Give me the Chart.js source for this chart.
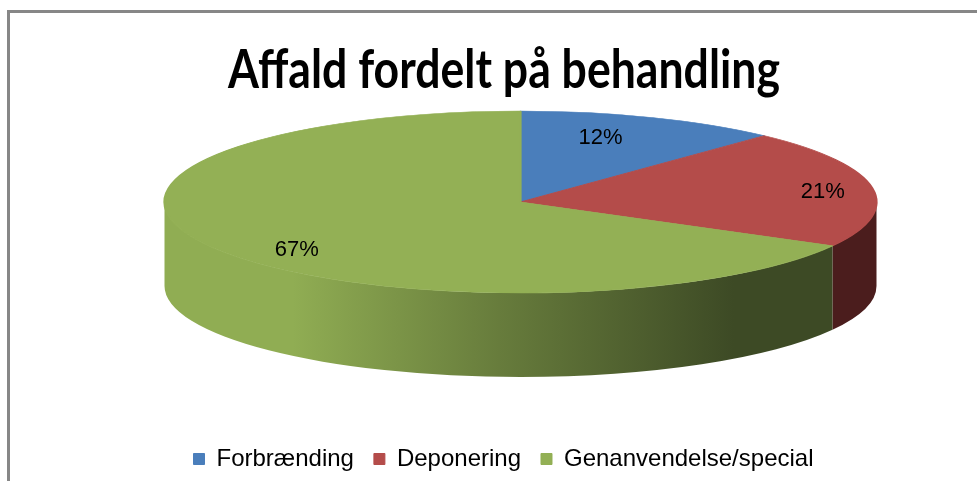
<!DOCTYPE html>
<html>
<head>
<meta charset="utf-8">
<script src="https://cdn.jsdelivr.net/npm/chart.js@4"></script>
<style>
    html, body { margin: 0; padding: 0; background: #fff; }
    #wrap { position: relative; width: 977px; height: 481px; overflow: hidden; }
    #frame { position: absolute; left: 7px; top: 10px; width: 1000px; height: 500px; border-top: 3px solid #878787; border-left: 3px solid #878787; }
    #waste-chart { position: absolute; left: 0; top: 0; }
</style>
</head>
<body>
<div id="wrap">
    <div id="frame"></div>
    <canvas id="waste-chart" width="977" height="481"></canvas>
</div>
<script>
const chartTitle = "Affald fordelt på behandling";
const categories = ["Forbrænding", "Deponering", "Genanvendelse/special"];
const shares = [12, 21, 67];
const shareLabels = ["12%", "21%", "67%"];

const topColors = ["#4A7EBB", "#B44C4A", "#93B055"];
const wallColors = [["#4A7EBB", "#263F5E"], ["#8A3A38", "#4B1D1D"], ["#90AD53", "#3D4A25"]];

const mix = (c1, c2, t) => {
    const p = c => [1, 3, 5].map(k => parseInt(c.slice(k, k + 2), 16));
    const a = p(c1), b = p(c2);
    return "rgb(" + a.map((v, k) => Math.round(v + (b[k] - v) * t)).join(",") + ")";
};

// excel draws the title tall and narrow, so squeeze it to the same width
const narrowTitle = {
    id: "narrowTitle",
    afterDraw(chart, args, opts) {
        const ctx = chart.ctx;
        ctx.save();
        ctx.font = opts.font;
        ctx.fillStyle = "#000";
        ctx.textAlign = "center";
        ctx.textBaseline = "alphabetic";
        const w = ctx.measureText(opts.text).width;
        ctx.translate(opts.x, opts.baseline);
        ctx.scale(opts.width / w, 1);
        ctx.fillText(opts.text, 0, 0);
        ctx.restore();
    }
};

// fake the excel 3d look: squash the chart.js pie into an ellipse and put a wall under it
const pie3d = {
    id: "pie3d",
    beforeDatasetsDraw(chart, args, opts) {
        const ctx = chart.ctx;
        const meta = chart.getDatasetMeta(0);
        const area = chart.chartArea;
        const cx = (area.left + area.right) / 2 + opts.shiftX;
        const cy = area.top + opts.radiusY + opts.gapTop;
        chart.$pieBox = { cx, cy };

        meta.data.forEach((arc, i) => {
            const a = Math.max(arc.startAngle, 0);
            const b = Math.min(arc.endAngle, Math.PI);
            if (b <= a) return;

            const grad = ctx.createLinearGradient(cx - opts.radiusX, 0, cx + opts.radiusX, 0);
            const [light, dark] = wallColors[i];
            grad.addColorStop(0, light);
            grad.addColorStop(0.18, light);
            grad.addColorStop(0.47, mix(light, dark, 0.5));
            grad.addColorStop(0.8, dark);
            grad.addColorStop(1, dark);

            ctx.save();
            ctx.beginPath();
            ctx.ellipse(cx, cy, opts.radiusX, opts.radiusY, 0, a, b);
            ctx.ellipse(cx, cy + opts.depth, opts.radiusX, opts.radiusY, 0, b, a, true);
            ctx.closePath();
            ctx.fillStyle = grad;
            ctx.fill();
            ctx.restore();
        });

        const first = meta.data[0];
        ctx.save();
        ctx.translate(cx, cy);
        ctx.scale(opts.radiusX / first.outerRadius, opts.radiusY / first.outerRadius);
        ctx.translate(-first.x, -first.y);
    },
    afterDatasetsDraw(chart, args, opts) {
        const ctx = chart.ctx;
        ctx.restore();

        const { cx, cy } = chart.$pieBox;
        const meta = chart.getDatasetMeta(0);
        ctx.save();
        ctx.font = "22px 'Liberation Sans', Arial, sans-serif";
        ctx.fillStyle = "#000";
        ctx.textAlign = "center";
        ctx.textBaseline = "middle";
        meta.data.forEach((arc, i) => {
            const mid = (arc.startAngle + arc.endAngle) / 2;
            const [fx, fy] = opts.labelSpots[i];
            const x = cx + opts.radiusX * fx * Math.cos(mid);
            const y = cy + opts.radiusY * fy * Math.sin(mid);
            ctx.fillText(shareLabels[i], x, y);
        });
        ctx.restore();
    }
};

const loadChart = () => {
    const ctx = document.getElementById("waste-chart").getContext("2d");

    new Chart(ctx, {
        type: "pie",
        data: {
            labels: categories,
            datasets: [{
                data: shares,
                backgroundColor: topColors,
                borderColor: topColors,
                borderWidth: 1,
                clip: false
            }]
        },
        plugins: [pie3d, narrowTitle],
        options: {
            responsive: false,
            animation: false,
            layout: {
                padding: { left: 30, right: 0, top: 105, bottom: 0 }
            },
            plugins: {
                legend: {
                    position: "bottom",
                    labels: {
                        color: "#000",
                        boxWidth: 11,
                        boxHeight: 11,
                        padding: 20,
                        font: {
                            family: "'Liberation Sans', Arial, sans-serif",
                            size: 24
                        }
                    }
                },
                tooltip: { enabled: false },
                narrowTitle: {
                    text: chartTitle,
                    font: "bold 54px Lato, 'Liberation Sans', sans-serif",
                    x: 504,
                    baseline: 88,
                    width: 552
                },
                pie3d: {
                    shiftX: 17,
                    gapTop: 6,
                    radiusX: 356,
                    radiusY: 91,
                    depth: 84,
                    labelSpots: [[0.61, 0.76], [0.86, 0.7], [0.73, 1.04]]
                }
            }
        }
    });
}

window.onload = () => loadChart();
</script>
</body>
</html>
